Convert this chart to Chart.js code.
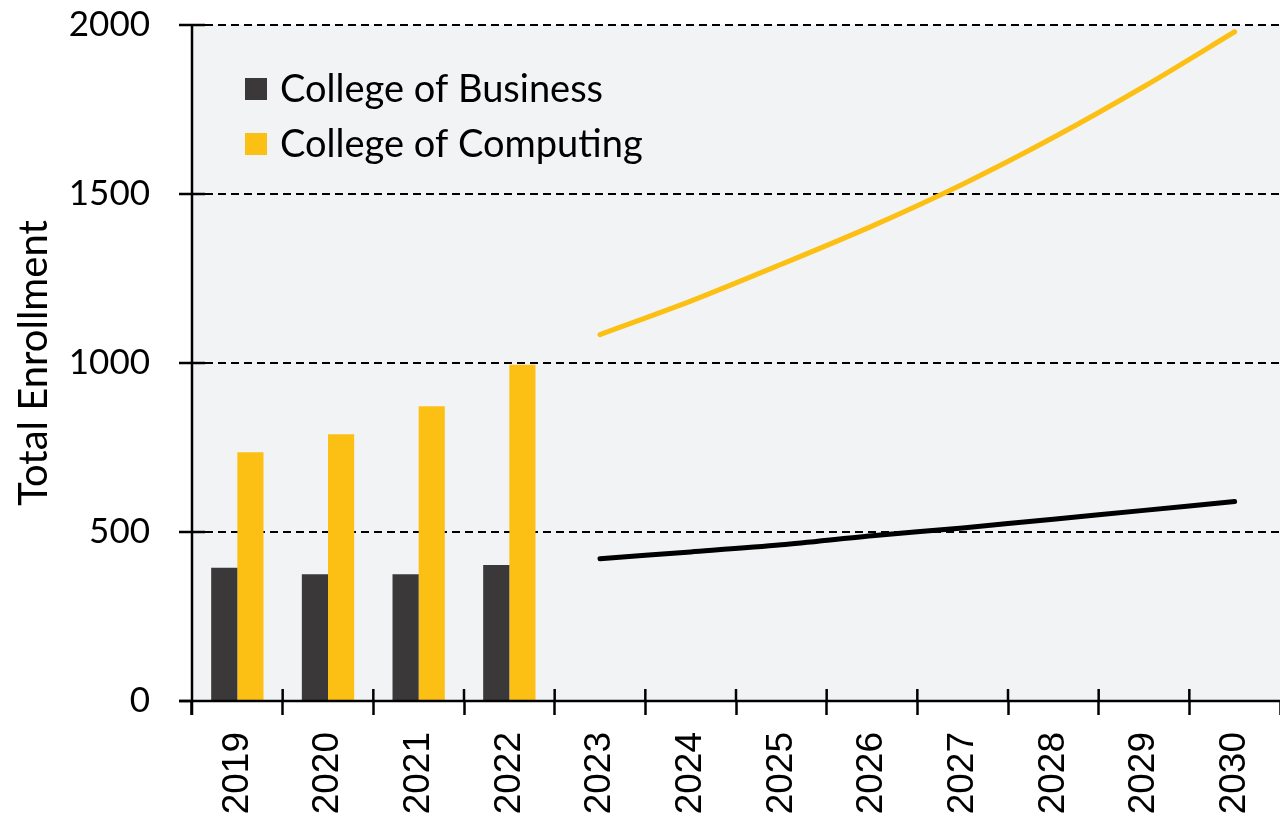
<!DOCTYPE html>
<html>
<head>
<meta charset="utf-8">
<title>Total Enrollment</title>
<script src="https://cdn.jsdelivr.net/npm/chart.js@4"></script>
<style>
  html, body { margin: 0; padding: 0; background: #fff; }
  #wrap { width: 1280px; height: 818px; position: relative; }
</style>
</head>
<body>
<div id="wrap"><canvas id="chart"></canvas></div>
<script>
// -------------------------------
// DATA
// -------------------------------
const years = ["2019", "2020", "2021", "2022", "2023", "2024", "2025", "2026", "2027", "2028", "2029", "2030"];

const businessActual = [394, 375, 375, 402, null, null, null, null, null, null, null, null];
const computingActual = [736, 789, 872, 995, null, null, null, null, null, null, null, null];

const businessProjected = [null, null, null, null, 421, 441, 462, 489, 512, 538, 564, 590];
const computingProjected = [null, null, null, null, 1084, 1183, 1292, 1405, 1529, 1667, 1818, 1980];

const yTicks = [0, 500, 1000, 1500, 2000];

const DARK = "#3b3839";
const GOLD = "#fcc014";
const LINE_DARK = "#000000";

// -------------------------------
// PLUGINS
// -------------------------------
const plotBackground = {
  id: "plotBackground",
  beforeDraw(chart) {
    const { ctx, chartArea: a } = chart;
    ctx.save();
    ctx.fillStyle = "#f2f3f5";
    ctx.fillRect(a.left, a.top, a.right - a.left, a.bottom - a.top);
    ctx.restore();
  }
};

// solid axis lines + inner half of the cross tick marks
const crossTicks = {
  id: "crossTicks",
  afterDraw(chart) {
    const { ctx, chartArea: a, scales } = chart;
    ctx.save();
    ctx.strokeStyle = "#000";
    ctx.lineWidth = 2.5;
    ctx.setLineDash([]);
    ctx.beginPath();
    ctx.moveTo(a.left, a.top);
    ctx.lineTo(a.left, a.bottom + 14);
    ctx.moveTo(a.left - 13, a.bottom);
    ctx.lineTo(a.right, a.bottom);
    yTicks.forEach(v => {
      const y = scales.y.getPixelForValue(v);
      ctx.moveTo(a.left, y);
      ctx.lineTo(a.left + 13, y);
    });
    for (let i = 1; i < years.length; i++) {
      const x = scales.x.getPixelForValue(i - 0.5);
      ctx.moveTo(x, a.bottom);
      ctx.lineTo(x, a.bottom - 12);
    }
    ctx.stroke();
    ctx.restore();
  }
};

// legend drawn inside the plot area
const insideLegend = {
  id: "insideLegend",
  afterDraw(chart) {
    const { ctx, chartArea: a } = chart;
    const items = chart.data.datasets.filter(d => d.type === "bar");
    ctx.save();
    ctx.font = "38px Lato";
    ctx.textBaseline = "middle";
    ctx.textAlign = "left";
    items.forEach((d, i) => {
      const cy = a.top + 64 + i * 55;
      ctx.fillStyle = d.backgroundColor;
      ctx.fillRect(a.left + 53, cy - 11, 22, 22);
      ctx.fillStyle = "#000";
      ctx.fillText(d.label, a.left + 88, cy + 1);
    });
    ctx.restore();
  }
};

// -------------------------------
// CHART
// -------------------------------
new Chart(document.getElementById("chart").getContext("2d"), {
  type: "bar",
  data: {
    labels: years,
    datasets: [
      {
        type: "bar",
        label: "College of Business",
        data: businessActual,
        backgroundColor: DARK,
        barPercentage: 1,
        categoryPercentage: 0.577
      },
      {
        type: "bar",
        label: "College of Computing",
        data: computingActual,
        backgroundColor: GOLD,
        barPercentage: 1,
        categoryPercentage: 0.577
      },
      {
        type: "line",
        label: "College of Business (projected)",
        data: businessProjected,
        borderColor: LINE_DARK,
        borderWidth: 5,
        borderCapStyle: "round",
        pointRadius: 0,
        tension: 0.3
      },
      {
        type: "line",
        label: "College of Computing (projected)",
        data: computingProjected,
        borderColor: GOLD,
        borderWidth: 5,
        borderCapStyle: "round",
        pointRadius: 0,
        tension: 0.3
      }
    ]
  },
  options: {
    responsive: true,
    maintainAspectRatio: false,
    animation: false,
    layout: { padding: 0 },
    plugins: {
      legend: { display: false },
      tooltip: { enabled: false }
    },
    scales: {
      x: {
        offset: true,
        afterFit: s => {
          s.height = 117;
          s.paddingLeft = 0;
          s.paddingRight = 0;
        },
        border: { display: false },
        grid: {
          display: true,
          drawOnChartArea: false,
          drawTicks: true,
          tickLength: 14,
          tickWidth: 2.5,
          tickColor: "#000",
          tickBorderDash: []
        },
        ticks: {
          color: "#000",
          font: { family: "'Liberation Sans', Arial", size: 37 },
          maxRotation: 90,
          minRotation: 90,
          padding: 17,
          autoSkip: false
        }
      },
      y: {
        min: 0,
        max: 2000,
        afterFit: s => {
          s.width = 192;
          s.paddingTop = 25;
          s.paddingBottom = 0;
        },
        afterBuildTicks: s => { s.ticks = yTicks.map(v => ({ value: v })); },
        border: { display: false, dash: [8, 5] },
        grid: {
          color: ctx => (ctx.tick && ctx.tick.value === 0 ? "rgba(0,0,0,0)" : "#000"),
          lineWidth: 2,
          borderDash: [8, 5],
          drawTicks: true,
          tickLength: 13,
          tickWidth: 2.5,
          tickColor: "#000",
          tickBorderDash: []
        },
        ticks: {
          color: "#000",
          font: { family: "Lato", size: 35 },
          padding: 29,
          callback: v => String(v)
        },
        title: {
          display: true,
          text: "Total Enrollment",
          color: "#000",
          font: { family: "Lato", size: 40 },
          padding: { top: 10, bottom: 0 }
        }
      }
    }
  },
  plugins: [plotBackground, crossTicks, insideLegend]
});
</script>
</body>
</html>
